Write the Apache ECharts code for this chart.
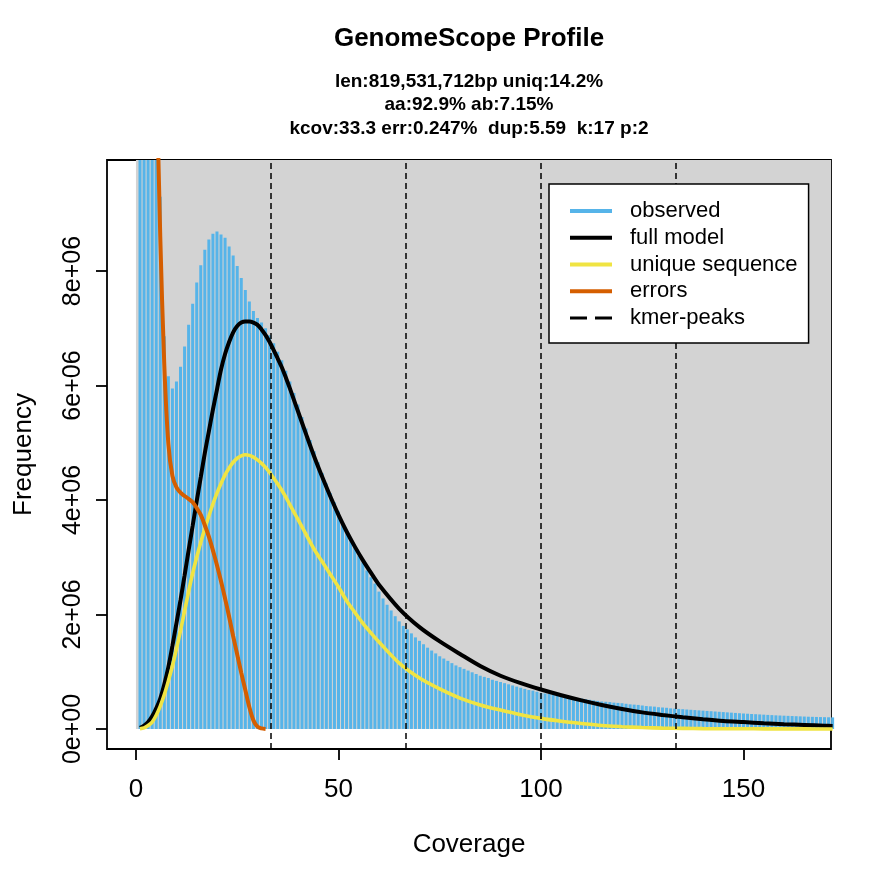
<!DOCTYPE html>
<html>
<head>
<meta charset="utf-8">
<script src="https://cdn.jsdelivr.net/npm/echarts@6/dist/echarts.min.js"></script>
<style>
html,body{margin:0;padding:0;background:#fff;}
#chart{width:886px;height:886px;}
</style>
</head>
<body>
<div id="chart"></div>
<script>
// ---------- data (frequencies in millions) ----------
const titleText = "GenomeScope Profile";
const subtitleLines = [
  "len:819,531,712bp uniq:14.2%",
  "aa:92.9% ab:7.15%",
  "kcov:33.3 err:0.247%  dup:5.59  k:17 p:2"
];

// observed histogram, coverage 1..172
const observed = [
  95, 48, 27, 17.5, 12.5, 9.3, 6.86, 6.16, 5.95, 6.07,
  6.33, 6.68, 7.06, 7.43, 7.80, 8.10, 8.37, 8.55, 8.65, 8.69,
  8.64, 8.58, 8.43, 8.27, 8.09, 7.88, 7.67, 7.47, 7.30, 7.18,
  7.10, 7.00, 6.88, 6.74, 6.59, 6.44, 6.26, 6.07, 5.87, 5.67,
  5.45, 5.25, 5.05, 4.85, 4.66, 4.47, 4.29, 4.12, 3.96, 3.80,
  3.61, 3.46, 3.31, 3.17, 3.03, 2.91, 2.77, 2.65, 2.54, 2.40,
  2.28, 2.17, 2.07, 1.97, 1.88, 1.80, 1.74, 1.67, 1.60, 1.54,
  1.48, 1.42, 1.37, 1.32, 1.27, 1.23, 1.19, 1.15, 1.11, 1.08,
  1.05, 1.02, 0.99, 0.96, 0.93, 0.91, 0.89, 0.86, 0.84, 0.82,
  0.80, 0.78, 0.76, 0.74, 0.72, 0.70, 0.68, 0.67, 0.65, 0.63,
  0.62, 0.61, 0.60, 0.59, 0.58, 0.57, 0.56, 0.55, 0.54, 0.53,
  0.52, 0.51, 0.50, 0.49, 0.48, 0.475, 0.47, 0.46, 0.455, 0.45,
  0.44, 0.43, 0.425, 0.42, 0.41, 0.40, 0.395, 0.39, 0.38, 0.375,
  0.37, 0.36, 0.355, 0.35, 0.345, 0.34, 0.335, 0.33, 0.325, 0.32,
  0.315, 0.31, 0.305, 0.30, 0.295, 0.29, 0.285, 0.28, 0.275, 0.27,
  0.266, 0.262, 0.258, 0.254, 0.25, 0.246, 0.242, 0.238, 0.235, 0.232,
  0.229, 0.226, 0.223, 0.22, 0.217, 0.214, 0.212, 0.21, 0.208, 0.206,
  0.204, 0.202
];

// full model curve
const modelX = [1,2,3,4,5,6,7,8,9,10,11,12,13,14,15,16,17,18,19,20,21,22,23,24,25,26,27,28,29,30,31,32,33,34,35,36,37,38,39,40,
  42,44,46,48,50,52,54,56,58,60,65,70,75,80,85,90,95,100,105,110,115,120,125,130,135,140,145,150,155,160,165,170,172];
const modelY = [0.02,0.06,0.12,0.22,0.36,0.53,0.78,1.08,1.45,1.85,2.25,2.68,3.12,3.55,3.98,4.40,4.82,5.20,5.58,5.93,
  6.28,6.55,6.76,6.93,7.04,7.10,7.12,7.12,7.10,7.06,6.98,6.88,6.76,6.62,6.47,6.32,6.14,5.95,5.75,5.55,
  5.15,4.76,4.40,4.06,3.74,3.45,3.19,2.95,2.73,2.52,2.10,1.78,1.53,1.31,1.10,0.93,0.80,0.69,0.59,0.50,0.42,0.35,0.29,0.245,0.205,0.17,0.14,0.12,0.10,0.083,0.07,0.057,0.053];

// unique sequence curve
const uniqueX = [1,2,3,4,5,6,7,8,9,10,11,12,13,14,15,16,17,18,19,20,21,22,23,24,25,26,27,28,29,30,31,32,33,34,35,36,37,38,39,40,
  42,44,46,48,50,52,54,56,58,60,65,70,75,80,85,90,95,100,105,110,115,120,125,130,135,140,145,150,155,160,165,170,172];
const uniqueY = [0.005,0.02,0.06,0.12,0.24,0.40,0.60,0.84,1.10,1.40,1.72,2.06,2.40,2.72,3.00,3.26,3.50,3.72,3.93,4.12,
  4.29,4.44,4.56,4.66,4.73,4.77,4.79,4.78,4.75,4.70,4.64,4.57,4.48,4.38,4.28,4.17,4.05,3.92,3.79,3.66,
  3.40,3.14,2.92,2.70,2.48,2.24,2.04,1.85,1.68,1.52,1.15,0.89,0.70,0.54,0.42,0.33,0.25,0.185,0.135,0.095,0.06,0.04,0.025,0.015,0.01,0.006,0.004,0.003,0.002,0.001,0.001,0,0];

// errors curve
const errorsX = [1,2,3,4,5,6,7,8,9,10,11,12,13,14,15,16,17,18,19,20,21,22,23,24,25,26,27,28,29,30,31,32];
const errorsY = [90,45,25,16.5,11.8,8.6,6.35,4.98,4.42,4.22,4.13,4.07,4.02,3.96,3.86,3.74,3.56,3.36,3.12,2.86,2.58,2.28,1.96,1.62,1.30,0.98,0.68,0.38,0.15,0.04,0.01,0];

// kmer peaks
const kmerPeaks = [33.3, 66.6, 99.9, 133.2];

// axis ticks
const xTicks = [0, 50, 100, 150];
const yTicks = [0, 2, 4, 6, 8];
const yTickLabels = ["0e+00", "2e+06", "4e+06", "6e+06", "8e+06"];

const X_MIN = -7.15, X_MAX = 171.6;
const Y_MIN = -0.35, Y_MAX = 9.94;

// ---------- build ----------
const coverage = observed.map((_, i) => i + 1);
const pairs = (xs, ys) => xs.map((x, i) => [x, ys[i]]);
const FONT = "'Liberation Sans', Arial, Helvetica, sans-serif";
const hiddenDot = {opacity: 0};

const chart = echarts.init(document.getElementById('chart'), null, {renderer: 'canvas'});
chart.setOption({
  animation: false,
  backgroundColor: '#fff',
  title: [
    {
      text: titleText, left: 469, top: 26, textAlign: 'center', padding: 0,
      textStyle: {fontFamily: FONT, fontSize: 26, fontWeight: 'bold', color: '#000'}
    },
    {
      text: subtitleLines.join('\n'), left: 469, top: 70, textAlign: 'center', padding: 0,
      textStyle: {fontFamily: FONT, fontSize: 19, fontWeight: 'bold', color: '#000', lineHeight: 23.5}
    }
  ],
  grid: {
    left: 107, right: 55, top: 160, bottom: 137,
    show: true, borderColor: '#000', borderWidth: 1.8, backgroundColor: '#fff'
  },
  legend: {
    orient: 'vertical', left: 549, top: 184, z: 20,
    selectedMode: false,
    backgroundColor: '#fff', borderColor: '#000', borderWidth: 1.5,
    padding: [14, 11, 12, 19],
    itemWidth: 42, itemHeight: 4, itemGap: 0.75,
    textStyle: {fontFamily: FONT, fontSize: 22, color: '#000', lineHeight: 26, padding: [0, 0, 0, 13]},
    data: [
      {name: 'observed', icon: 'rect', itemStyle: {color: '#56B4E9'}},
      {name: 'full model', itemStyle: hiddenDot, lineStyle: {width: 4, color: '#000'}},
      {name: 'unique sequence', itemStyle: hiddenDot, lineStyle: {width: 4, color: '#F0E442'}},
      {name: 'errors', itemStyle: hiddenDot, lineStyle: {width: 4, color: '#D55E00'}},
      {name: 'kmer-peaks', itemStyle: hiddenDot, lineStyle: {width: 3, color: '#000', type: [17, 8]}}
    ]
  },
  xAxis: {
    type: 'value', min: X_MIN, max: X_MAX,
    name: 'Coverage', nameLocation: 'middle', nameGap: 83,
    nameTextStyle: {fontFamily: FONT, fontSize: 26, color: '#000'},
    axisLine: {show: false, onZero: false},
    splitLine: {show: false},
    axisTick: {show: true, customValues: xTicks, length: 11, lineStyle: {color: '#000', width: 1.8}},
    axisLabel: {customValues: xTicks, margin: 28, fontFamily: FONT, fontSize: 26, color: '#000'}
  },
  yAxis: {
    type: 'value', min: Y_MIN, max: Y_MAX,
    name: 'Frequency', nameLocation: 'middle', nameGap: 70,
    nameTextStyle: {fontFamily: FONT, fontSize: 26, color: '#000'},
    axisLine: {show: false, onZero: false},
    splitLine: {show: false},
    axisTick: {show: true, customValues: yTicks, length: 11, lineStyle: {color: '#000', width: 1.8}},
    axisLabel: {
      customValues: yTicks, rotate: 90, margin: 21,
      fontFamily: FONT, fontSize: 25, color: '#000',
      formatter: v => yTickLabels[yTicks.indexOf(v)]
    }
  },
  series: [
    {
      type: 'custom', name: 'bg', silent: true, z: 1, clip: true,
      data: [[0, 0, X_MAX, Y_MAX]],
      encode: {x: [0, 2], y: [1, 3]},
      renderItem: (params, api) => {
        const p0 = api.coord([api.value(0), api.value(1)]);
        const p1 = api.coord([api.value(2), api.value(3)]);
        return {type: 'rect', shape: {x: p0[0], y: p1[1], width: p1[0] - p0[0], height: p0[1] - p1[1]},
                style: {fill: '#D3D3D3'}};
      }
    },
    {
      type: 'bar', name: 'observed', z: 2, barWidth: 3, clip: true,
      itemStyle: {color: '#56B4E9'},
      data: pairs(coverage, observed)
    },
    {
      type: 'line', name: 'full model', z: 3, smooth: 0.3, symbol: 'none', clip: true,
      itemStyle: {color: '#000'},
      lineStyle: {color: '#000', width: 4},
      data: pairs(modelX, modelY)
    },
    {
      type: 'line', name: 'unique sequence', z: 4, smooth: 0.3, symbol: 'none', clip: true,
      itemStyle: {color: '#F0E442'},
      lineStyle: {color: '#F0E442', width: 3.6},
      data: pairs(uniqueX, uniqueY)
    },
    {
      type: 'line', name: 'errors', z: 5, smooth: 0.3, symbol: 'none', clip: true,
      itemStyle: {color: '#D55E00'},
      lineStyle: {color: '#D55E00', width: 4},
      data: pairs(errorsX, errorsY)
    },
    {
      type: 'line', name: 'kmer-peaks', z: 6, symbol: 'none',
      itemStyle: {color: '#000'},
      lineStyle: {color: '#000', width: 1.5, type: [6, 4]},
      data: [],
      markLine: {
        silent: true, symbol: 'none', label: {show: false},
        lineStyle: {color: '#000', width: 1.5, type: [6, 4]},
        data: kmerPeaks.map(p => ({xAxis: p}))
      }
    }
  ]
});
</script>
</body>
</html>
